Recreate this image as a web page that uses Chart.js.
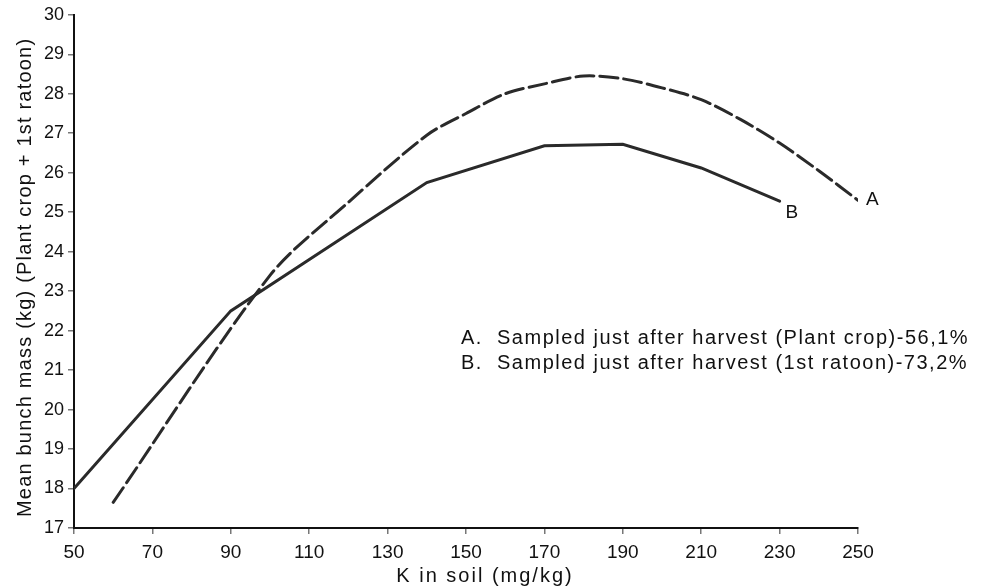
<!DOCTYPE html>
<html>
<head>
<meta charset="utf-8">
<script src="https://cdn.jsdelivr.net/npm/chart.js@4"></script>
<style>
html,body{margin:0;padding:0;background:#fff;}
#wrap{position:relative;width:986px;height:587px;}
</style>
</head>
<body>
<div id="wrap"><canvas id="c" width="986" height="587"></canvas></div>
<script>
// Data
const xTicks = [50, 70, 90, 110, 130, 150, 170, 190, 210, 230, 250];
const seriesAx = [60, 100, 120, 140, 150, 160, 170, 180, 190, 200, 210, 220, 230, 240, 250];
const seriesAy = [17.65, 23.4, 25.25, 26.95, 27.5, 28.0, 28.25, 28.45, 28.38, 28.15, 27.85, 27.35, 26.75, 26.05, 25.3];
const seriesBx = [50, 90, 140, 170, 190, 210, 230];
const seriesBy = [18.0, 22.5, 25.75, 26.68, 26.72, 26.12, 25.28];
const seriesLabels = ['A', 'B'];
const legendLines = [
  'A.  Sampled just after harvest (Plant crop)-56,1%',
  'B.  Sampled just after harvest (1st ratoon)-73,2%'
];
const xTitle = 'K in soil (mg/kg)';
const yTitle = 'Mean bunch mass (kg) (Plant crop + 1st ratoon)';

const toPts = (xs, ys) => xs.map((x, i) => ({x: x, y: ys[i]}));
const FONT = '"Liberation Sans", Arial, Helvetica, sans-serif';
const INK = '#2a2a2a';

const labelPlugin = {
  id: 'labels',
  afterDatasetsDraw(chart) {
    const ctx = chart.ctx;
    const xs = chart.scales.x, ys = chart.scales.y;
    const area = chart.chartArea;
    ctx.save();
    ctx.fillStyle = '#111';
    ctx.font = '19px ' + FONT;
    ctx.textBaseline = 'middle';
    ctx.textAlign = 'left';
    // end labels
    const aLast = seriesAx.length - 1, bLast = seriesBx.length - 1;
    ctx.fillText(seriesLabels[0], xs.getPixelForValue(seriesAx[aLast]) + 8, ys.getPixelForValue(seriesAy[aLast]) - 1);
    ctx.fillText(seriesLabels[1], xs.getPixelForValue(seriesBx[bLast]) + 6, ys.getPixelForValue(seriesBy[bLast]) + 12);
    // legend text
    ctx.textBaseline = 'alphabetic';
    ctx.font = '20px ' + FONT;
    ctx.letterSpacing = '1.5px';
    ctx.fillText(legendLines[0], 461, 344);
    ctx.fillText(legendLines[1], 461, 369);
    // x axis title
    ctx.textAlign = 'center';
    ctx.letterSpacing = '2px';
    ctx.fillText(xTitle, 485, 582);
    // y axis title
    ctx.translate(25, (area.top + area.bottom) / 2 + 6);
    ctx.rotate(-Math.PI / 2);
    ctx.textBaseline = 'middle';
    ctx.letterSpacing = '1.2px';
    ctx.font = '20px ' + FONT;
    ctx.fillText(yTitle, 0, 0);
    ctx.restore();
  }
};

new Chart(document.getElementById('c'), {
  type: 'line',
  data: {
    datasets: [
      {
        label: seriesLabels[0],
        data: toPts(seriesAx, seriesAy),
        borderColor: INK,
        borderWidth: 3,
        borderDash: [18, 6],
        borderCapStyle: 'round',
        pointRadius: 0,
        tension: 0.3,
        fill: false
      },
      {
        label: seriesLabels[1],
        data: toPts(seriesBx, seriesBy),
        borderColor: INK,
        borderWidth: 3,
        borderCapStyle: 'round',
        pointRadius: 0,
        tension: 0,
        fill: false
      }
    ]
  },
  options: {
    responsive: false,
    animation: false,
    layout: {padding: {top: 13, right: 128, left: 0, bottom: 0}},
    plugins: {legend: {display: false}, tooltip: {enabled: false}},
    scales: {
      x: {
        type: 'linear',
        min: 50, max: 250,
        afterBuildTicks(s) { s.ticks = xTicks.map(v => ({value: v})); },
        afterFit(s) { s.height = 59; },
        grid: {drawOnChartArea: false, drawTicks: true, tickLength: 6, color: '#777', lineWidth: 1.5},
        border: {color: '#111', width: 2},
        ticks: {color: '#111', font: {family: FONT, size: 19}, padding: 7, maxRotation: 0, autoSkip: false},
        title: {display: false, text: xTitle}
      },
      y: {
        type: 'linear',
        min: 17, max: 30,
        ticks: {stepSize: 1, color: '#111', font: {family: FONT, size: 18}, padding: 4},
        afterFit(s) { s.width = 74; },
        grid: {drawOnChartArea: false, drawTicks: true, tickLength: 6, color: '#777', lineWidth: 1.5},
        border: {color: '#111', width: 2},
        title: {display: false, text: yTitle}
      }
    }
  },
  plugins: [labelPlugin]
});
</script>
</body>
</html>
